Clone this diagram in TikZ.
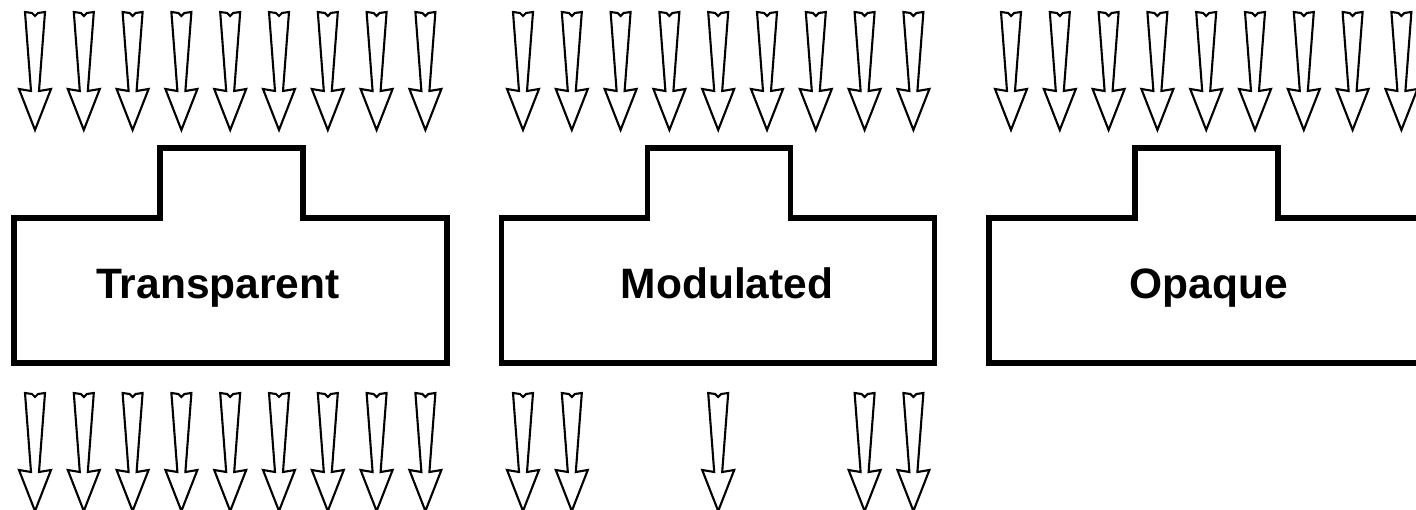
\documentclass[tikz,border=0pt]{standalone}
\usepackage{fontspec}
\setmainfont{Liberation Sans}

\tikzset{
  ray/.pic={
    \draw[line width=1.2pt, line join=miter]
      (-10,0) -- (-3,1) -- (0,4) -- (3,1) -- (10,0) -- (4,79) -- (16,77)
      -- (0,118) -- (-16,77) -- (-4,79) -- cycle;
  },
  slab/.style={line width=2.9pt, line join=miter},
  lbl/.style={anchor=base, font=\bfseries\fontsize{24.2}{28}\selectfont}
}

\begin{document}
\begin{tikzpicture}[x=0.02cm, y=-0.02cm]

  \useasboundingbox (0,0) rectangle (1416,510);
  \clip (0,0) rectangle (1416,510);

  % incoming light, three panels
  \foreach \b in {0,1,2}{
    \foreach \i in {0,...,8}{
      \pic at ({35+\b*488+\i*48.8},12) {ray};
    }
  }

  % the three slabs
  \foreach \b in {0,1,2}{
    \draw[slab] ({14+\b*487.5},363) -- ({14+\b*487.5},218) -- ({160+\b*487.5},218)
      -- ({160+\b*487.5},148) -- ({303+\b*487.5},148) -- ({303+\b*487.5},218)
      -- ({447+\b*487.5},218) -- ({447+\b*487.5},363) -- cycle;
  }

  \node[lbl] (transparent) at (218,298) {Transparent};
  \node[lbl] (modulated) at (727,298) {Modulated};
  \node[lbl] (opaque) at (1209,298) {Opaque};

  % what gets through
  \foreach \i in {0,...,8}{
    \pic at ({35+\i*48.8},393) {ray};
  }
  \foreach \i in {0,1,4,7,8}{
    \pic at ({523+\i*48.8},393) {ray};
  }

\end{tikzpicture}
\end{document}
